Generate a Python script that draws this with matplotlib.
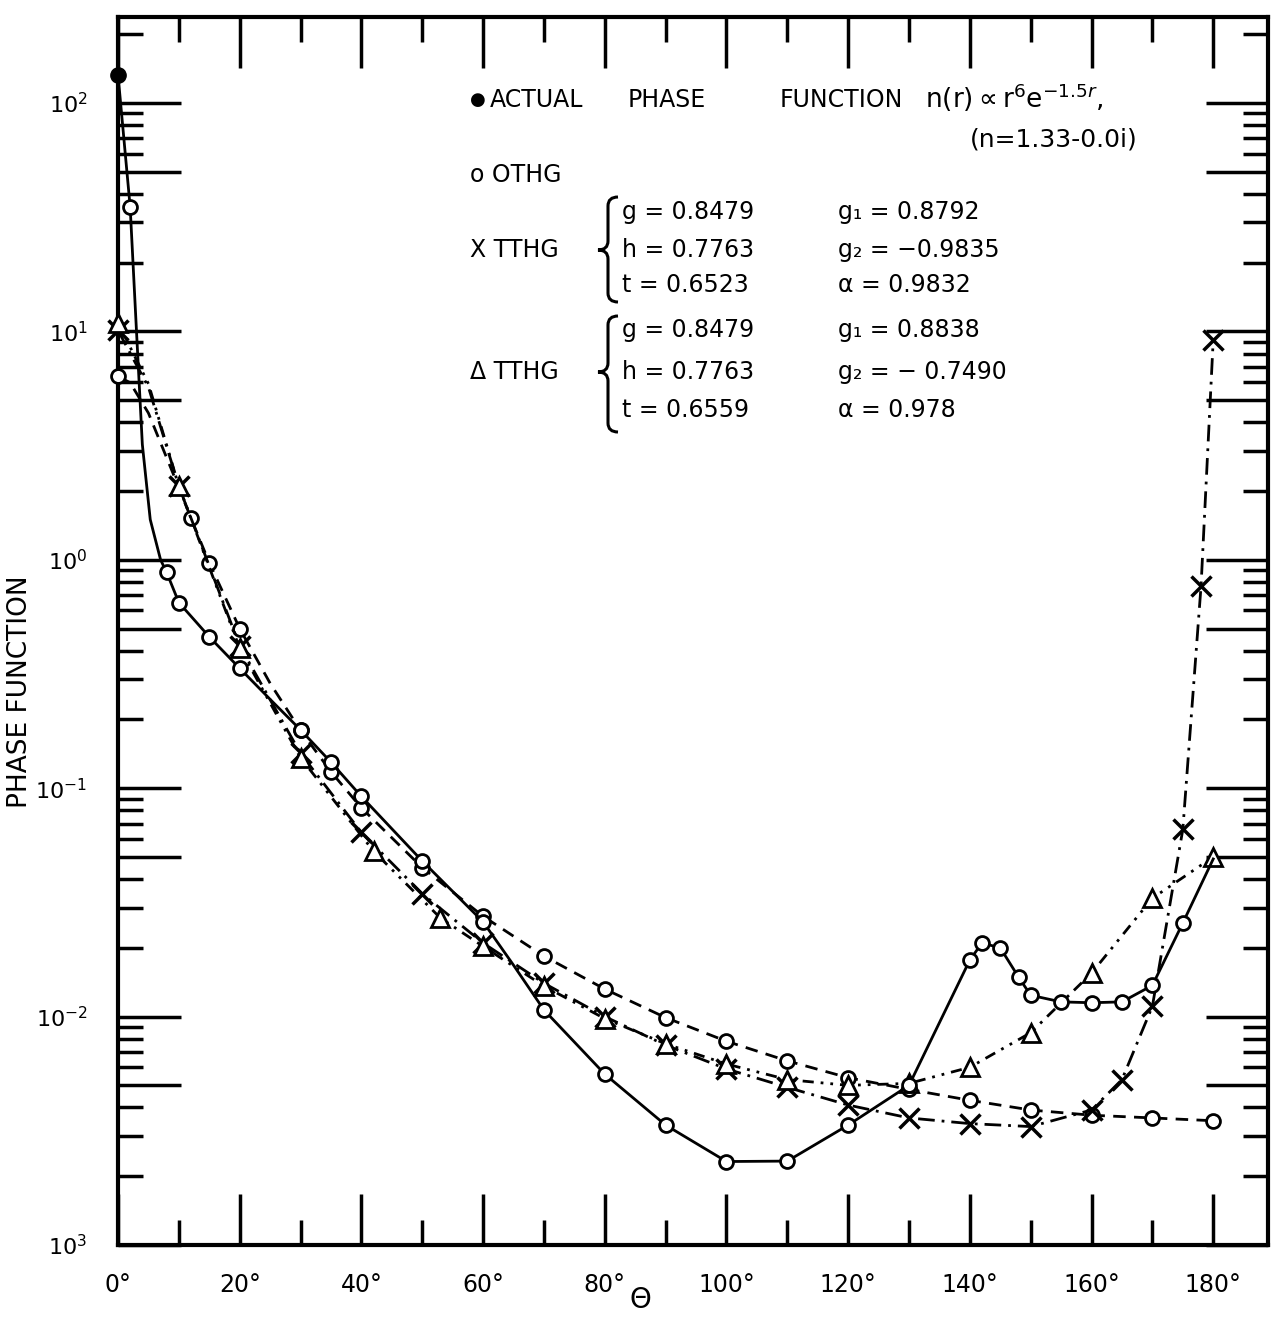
import matplotlib
matplotlib.use("Agg")
import matplotlib.pyplot as plt
from matplotlib.path import Path
from matplotlib.patches import PathPatch
from matplotlib.ticker import FixedLocator, NullFormatter

# ---------------- data ----------------
actual_angle = [0, 2, 3, 4, 5.3, 7, 8, 10, 15, 20, 25, 30, 35, 40, 50, 60, 65, 70,
                80, 90, 100, 110, 120, 130, 140, 142, 145, 148, 150, 155, 160,
                165, 170, 175, 180]
actual_value = [133, 35, 10.5, 3.2, 1.5, 1.0, 0.88, 0.65, 0.46, 0.335, 0.245, 0.18,
                0.13, 0.092, 0.048, 0.026, 0.0168, 0.0107, 0.0056, 0.00335, 0.00232,
                0.00233, 0.00335, 0.0050, 0.0177, 0.021, 0.020, 0.0149, 0.0124,
                0.0116, 0.0115, 0.0116, 0.0137, 0.0257, 0.049]
actual_marks = [2, 8, 10, 15, 20, 30, 35, 40, 50, 60, 70, 80, 90, 100, 110, 120,
                130, 140, 142, 145, 148, 150, 155, 160, 165, 170, 175]

othg_angle = [0, 2, 5, 10, 12, 15, 20, 25, 30, 35, 40, 50, 60, 70, 80, 90, 100,
              110, 120, 130, 140, 150, 160, 170, 180]
othg_value = [6.36, 5.96, 4.39, 2.07, 1.52, 0.97, 0.50, 0.288, 0.179, 0.118, 0.082,
              0.0449, 0.0275, 0.0184, 0.0132, 0.0099, 0.0078, 0.0064, 0.0054,
              0.0048, 0.0043, 0.0039, 0.0037, 0.0036, 0.0035]
othg_marks = [0, 12, 15, 20, 30, 35, 40, 50, 60, 70, 80, 90, 100, 110, 120, 130,
              140, 150, 160, 170, 180]

ttx_angle = [0, 5, 10, 20, 30, 40, 50, 60, 70, 80, 90, 100, 110, 120, 130, 140,
             150, 160, 165, 170, 175, 178, 180]
ttx_value = [10.1, 5.7, 2.1, 0.42, 0.142, 0.064, 0.0345, 0.021, 0.014, 0.010,
             0.0075, 0.0059, 0.0049, 0.0041, 0.0036, 0.0034, 0.0033, 0.0039,
             0.0053, 0.0111, 0.066, 0.77, 9.2]
ttx_marks = [0, 10, 20, 30, 40, 50, 60, 70, 80, 90, 100, 110, 120, 130, 140, 150,
             160, 165, 170, 175, 178, 180]

ttd_angle = [0, 5, 10, 20, 30, 42, 53, 60, 70, 80, 90, 100, 110, 120, 130, 140,
             150, 160, 170, 180]
ttd_value = [10.9, 5.9, 2.1, 0.41, 0.136, 0.053, 0.027, 0.0203, 0.0136, 0.0098,
             0.0076, 0.0062, 0.0053, 0.0050, 0.0051, 0.0060, 0.0085, 0.0155,
             0.033, 0.050]
ttd_marks = [0, 10, 20, 30, 42, 53, 60, 70, 80, 90, 100, 110, 120, 130, 140, 150,
             160, 170, 180]

xtick_values = [0, 20, 40, 60, 80, 100, 120, 140, 160, 180]
xtick_labels = ["0°", "20°", "40°", "60°", "80°", "100°", "120°", "140°", "160°", "180°"]
ytick_values = [1e-3, 1e-2, 1e-1, 1e0, 1e1, 1e2]
ytick_labels = ["$10^{3}$", "$10^{-2}$", "$10^{-1}$", "$10^{0}$", "$10^{1}$", "$10^{2}$"]

# ---------------- figure ----------------
W, H = 1275, 1320
fig = plt.figure(figsize=(W / 100, H / 100), dpi=100)
plt.rcParams['font.family'] = ['DejaVu Sans']
L, R, T, B = 118, 1268, 17, 1245
ax = fig.add_axes([L / W, 1 - B / H, (R - L) / W, (B - T) / H])
ax.set_yscale('log')
ax.set_xlim(0, 189)
ax.set_ylim(1e-3, 238)


def idx(angles, marks):
    return [angles.index(m) for m in marks]


lw = 2.0
ax.plot(actual_angle, actual_value, color='black', lw=lw, ls='-',
        marker='o', ms=10, mfc='white', mec='black', mew=2,
        markevery=idx(actual_angle, actual_marks), zorder=4, clip_on=False)
ax.plot(actual_angle[:1], actual_value[:1], ls='none', marker='o', ms=11,
        color='black', zorder=6, clip_on=False)
ax.plot(othg_angle, othg_value, color='black', lw=lw, ls=(0, (4.5, 3)),
        marker='o', ms=10, mfc='white', mec='black', mew=2,
        markevery=idx(othg_angle, othg_marks), zorder=3, clip_on=False)
ax.plot(ttx_angle, ttx_value, color='black', lw=lw, ls=(0, (6, 2.5, 1, 2.5)),
        marker='x', ms=15, mec='black', mew=2.5,
        markevery=idx(ttx_angle, ttx_marks), zorder=3, clip_on=False)
ax.plot(ttd_angle, ttd_value, color='black', lw=lw,
        ls=(0, (4, 2.5, 1, 2.5, 1, 2.5)),
        marker='^', ms=13, mfc='white', mec='black', mew=2,
        markevery=idx(ttd_angle, ttd_marks), zorder=3, clip_on=False)

# ticks
ax.set_xticks(xtick_values)
ax.set_xticklabels(xtick_labels)
ax.xaxis.set_minor_locator(FixedLocator(list(range(10, 190, 20))))
decades = [1e-3, 1e-2, 1e-1, 1e0, 1e1, 1e2]
fives = [5 * d for d in decades[:-1]]
ax.yaxis.set_major_locator(FixedLocator(ytick_values + fives))
ax.set_yticklabels(ytick_labels + [''] * len(fives))
minors = [m * d for d in decades for m in (2, 3, 4, 6, 7, 8, 9) if m * d < 238]
ax.yaxis.set_minor_locator(FixedLocator(minors))
ax.yaxis.set_minor_formatter(NullFormatter())

ax.tick_params(axis='x', which='major', direction='in', length=37, width=2.5,
               top=True, bottom=True, labelsize=17, pad=20)
ax.tick_params(axis='x', which='minor', direction='in', length=18, width=2.5,
               top=True, bottom=True)
ax.tick_params(axis='y', which='major', direction='in', length=45, width=2.5,
               left=True, right=True, labelsize=16, pad=22)
ax.tick_params(axis='y', which='minor', direction='in', length=18, width=2.5,
               left=True, right=True)
for s in ax.spines.values():
    s.set_linewidth(3)

# ---------------- overlay for annotations (pixel coordinates) ----------------
ov = fig.add_axes([0, 0, 1, 1], zorder=10)
ov.set_xlim(0, W)
ov.set_ylim(H, 0)
ov.axis('off')
ov.patch.set_alpha(0)

fs = 17
ov.text(20, 692, "PHASE FUNCTION", rotation=90, ha='center', va='center', fontsize=19)
ov.text(640, 1300, "Θ", ha='center', va='center', fontsize=20)

ov.text(470, 100, "●", ha='left', va='center', fontsize=13)
ov.text(490, 100, "ACTUAL", ha='left', va='center', fontsize=fs)
ov.text(628, 100, "PHASE", ha='left', va='center', fontsize=fs)
ov.text(780, 100, "FUNCTION", ha='left', va='center', fontsize=fs)
ov.text(925, 98, r"n(r)$\propto$r$^{6}$e$^{-1.5r}$,", ha='left', va='center', fontsize=19)
ov.text(970, 140, "(n=1.33-0.0i)", ha='left', va='center', fontsize=18)
ov.text(470, 175, "o OTHG", ha='left', va='center', fontsize=fs)
ov.text(470, 250, "X TTHG", ha='left', va='center', fontsize=fs)
ov.text(470, 372, "Δ TTHG", ha='left', va='center', fontsize=fs)

col1 = ["g = 0.8479", "h = 0.7763", "t = 0.6523", "g = 0.8479", "h = 0.7763", "t = 0.6559"]
col2 = ["g₁ = 0.8792", "g₂ = −0.9835", "α = 0.9832", "g₁ = 0.8838", "g₂ = − 0.7490", "α = 0.978"]
rows = [212, 250, 285, 330, 372, 410]
for a, b, y in zip(col1, col2, rows):
    ov.text(622, y, a, ha='left', va='center', fontsize=fs)
    ov.text(838, y, b, ha='left', va='center', fontsize=fs)


def brace(xl, xr, yt, yb, ym, r=9):
    xm = (xl + xr) / 2
    verts = [(xr, yt), (xm, yt), (xm, yt + r), (xm, ym - r), (xm, ym), (xl, ym),
             (xm, ym), (xm, ym + r), (xm, yb - r), (xm, yb), (xr, yb)]
    codes = [Path.MOVETO, Path.CURVE3, Path.CURVE3, Path.LINETO, Path.CURVE3,
             Path.CURVE3, Path.CURVE3, Path.CURVE3, Path.LINETO, Path.CURVE3,
             Path.CURVE3]
    ov.add_patch(PathPatch(Path(verts, codes), fill=False, lw=2.2, ec='black'))


brace(598, 618, 197, 302, 250)
brace(598, 618, 316, 432, 372)

fig.savefig("out.png", dpi=100)
